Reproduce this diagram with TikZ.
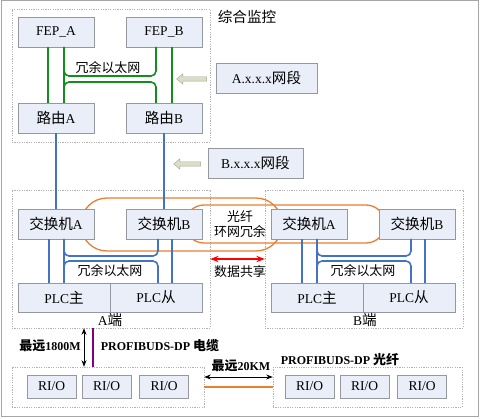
\documentclass[tikz,border=0pt]{standalone}
\usepackage{fontspec}
\setmainfont{Liberation Serif}
\newfontfamily\cjk[Scale=1.08]{Noto Sans CJK SC}
\usetikzlibrary{shapes.arrows,arrows.meta}
\definecolor{boxfill}{RGB}{233,238,248}
\definecolor{boxline}{RGB}{150,152,160}
\definecolor{netgreen}{RGB}{20,140,30}
\definecolor{netblue}{RGB}{68,114,196}
\definecolor{ringorange}{RGB}{237,125,49}
\definecolor{busviolet}{RGB}{128,0,128}
\definecolor{hintfill}{RGB}{218,222,200}
\definecolor{hintline}{RGB}{160,168,140}

\begin{document}
\begin{tikzpicture}[x=1pt, y=-1pt, >=Stealth,
  box/.style={rectangle, draw=boxline, fill=boxfill, inner sep=0pt, outer sep=0pt, font=\fontsize{13.5}{15}\selectfont},
  zone/.style={rectangle, draw=gray!60, dash pattern=on 1.2pt off 1.2pt, inner sep=0pt},
  lbl/.style={font=\fontsize{12}{15}\selectfont, inner sep=0pt},
  bold/.style={font=\fontsize{12}{14}\selectfont\bfseries, inner sep=0pt},
  grn/.style={draw=netgreen, line width=1.6pt},
  blu/.style={draw=netblue, line width=1.6pt},
  ring/.style={draw=ringorange, line width=1.3pt},
  hint/.style={single arrow, draw=hintline, fill=hintfill, shape border rotate=180, inner sep=2pt, minimum height=30pt, single arrow head extend=3pt, single arrow tip angle=80}
]

    \useasboundingbox (0,0) rectangle (480,419);
    \draw[gray!70, line width=1pt] (1,1) rectangle (478,417);

    % dashed zones
    \node[zone, minimum width=198pt, minimum height=133pt] (zoneTop) at (111,75.5) {};
    \node[zone, minimum width=198pt, minimum height=138pt] (zoneA) at (111,259) {};
    \node[zone, minimum width=198pt, minimum height=138pt] (zoneB) at (364,259) {};
    \node[zone, minimum width=192pt, minimum height=40pt] (zoneRa) at (108,387) {};
    \node[zone, minimum width=189pt, minimum height=40pt] (zoneRb) at (367.5,387.5) {};

    % fibre rings first, behind the switches
    \draw[ring, rounded corners=26pt] (81,198) rectangle (282,251);
    \draw[ring, rounded corners=19pt] (185,205) rectangle (385,243);

    % monitoring part
    \node[lbl, font=\fontsize{13.5}{15}\selectfont] (title) at (247,17) {\cjk 综合监控};
    \node[box, minimum width=76pt, minimum height=30pt] (fepA) at (56,32) {FEP\_A};
    \node[box, minimum width=76pt, minimum height=30pt] (fepB) at (164,32) {FEP\_B};
    \node[box, minimum width=76pt, minimum height=30pt] (routA) at (56,118) {{\cjk 路由}A};
    \node[box, minimum width=76pt, minimum height=30pt] (routB) at (164,118) {{\cjk 路由}B};
    \node[box, minimum width=101pt, minimum height=30pt] (netA) at (266.5,78) {A.x.x.x{\cjk 网段}};
    \node[box, minimum width=95pt, minimum height=30pt] (netB) at (255.5,163) {B.x.x.x{\cjk 网段}};
    \node[hint] (hintA) at (193,79) {};
    \node[hint, minimum height=27pt] (hintB) at (188.5,164) {};
    \node[lbl] (ethTop) at (108,68) {\cjk 冗余以太网};

    % A end
    \node[box, minimum width=76pt, minimum height=30pt] (swAa) at (56,224) {{\cjk 交换机}A};
    \node[box, minimum width=76pt, minimum height=30pt] (swAb) at (164,224) {{\cjk 交换机}B};
    \node[box, minimum width=92pt, minimum height=29pt] (plcAm) at (64,297.5) {PLC{\cjk 主}};
    \node[box, minimum width=92pt, minimum height=29pt] (plcAs) at (156,297.5) {PLC{\cjk 从}};
    \node[lbl] (ethA) at (110,271) {\cjk 冗余以太网};
    \node[lbl, font=\fontsize{13.5}{15}\selectfont] (endA) at (110,320) {A{\cjk 端}};

    % B end
    \node[box, minimum width=76pt, minimum height=30pt] (swBa) at (309,224) {{\cjk 交换机}A};
    \node[box, minimum width=76pt, minimum height=30pt] (swBb) at (417,224) {{\cjk 交换机}B};
    \node[box, minimum width=92pt, minimum height=29pt] (plcBm) at (317,297.5) {PLC{\cjk 主}};
    \node[box, minimum width=92pt, minimum height=29pt] (plcBs) at (409,297.5) {PLC{\cjk 从}};
    \node[lbl] (ethB) at (363,271) {\cjk 冗余以太网};
    \node[lbl, font=\fontsize{13.5}{15}\selectfont] (endB) at (365,320) {B{\cjk 端}};

    % between the ends
    \node[lbl, align=center] (ringTxt) at (240,224) {\cjk 光纤\\\cjk 环网冗余};
    \node[lbl] (share) at (240,272) {\cjk 数据共享};

    % remote I/O
    \node[box, minimum width=49pt, minimum height=23pt] (rioA1) at (51.5,386.5) {RI/O};
    \node[box, minimum width=49pt, minimum height=23pt] (rioA2) at (106.5,386.5) {RI/O};
    \node[box, minimum width=49pt, minimum height=23pt] (rioA3) at (164,386.5) {RI/O};
    \node[box, minimum width=49pt, minimum height=23pt] (rioB1) at (309.5,386.5) {RI/O};
    \node[box, minimum width=49pt, minimum height=23pt] (rioB2) at (364.5,386.5) {RI/O};
    \node[box, minimum width=49pt, minimum height=23pt] (rioB3) at (422,386.5) {RI/O};
    \node[bold] (distA) at (50,346) {{\cjk 最远}1800M};
    \node[bold] (busA) at (160,346) {PROFIBUDS-DP {\cjk 电缆}};
    \node[bold] (distB) at (241,366) {{\cjk 最远}20KM};
    \node[bold] (busB) at (340,360) {PROFIBUDS-DP {\cjk 光纤}};

    % green ethernet
    \draw[grn] ([xshift=-8pt]fepA.south) -- ([xshift=-8pt]routA.north);
    \draw[grn] ([xshift=8pt]fepA.south) -- ([xshift=8pt]routA.north);
    \draw[grn] ([xshift=8pt]fepB.south) -- ([xshift=8pt]routB.north);
    \draw[grn, rounded corners=5pt] ([xshift=8pt]fepA.south) -- ++(0,29) -| ([xshift=-8pt]fepB.south);
    \draw[grn, rounded corners=5pt] ([xshift=8pt]routA.north) -- ++(0,-21) -| ([xshift=-8pt]routB.north);

    % blue ethernet
    \draw[blu] (routA) -- (swAa);
    \draw[blu] (routB) -- (swAb);
    \draw[blu] ([xshift=-7pt]swAa.south) -- ([xshift=-7pt]swAa.south |- plcAm.north);
    \draw[blu] ([xshift=8pt]swAa.south) -- ([xshift=8pt]swAa.south |- plcAm.north);
    \draw[blu] ([xshift=8pt]swAb.south) -- ([xshift=8pt]swAb.south |- plcAs.north);
    \draw[blu, rounded corners=5pt] ([xshift=8pt]swAa.south) -- ++(0,17) -| ([xshift=-6pt]swAb.south);
    \draw[blu, rounded corners=5pt] ([xshift=8pt]swAa.south |- plcAm.north) -- ++(0,-22) -| ([xshift=-6pt]swAb.south |- plcAs.north);
    \draw[blu] ([xshift=-7pt]swBa.south) -- ([xshift=-7pt]swBa.south |- plcBm.north);
    \draw[blu] ([xshift=8pt]swBa.south) -- ([xshift=8pt]swBa.south |- plcBm.north);
    \draw[blu] ([xshift=8pt]swBb.south) -- ([xshift=8pt]swBb.south |- plcBs.north);
    \draw[blu, rounded corners=5pt] ([xshift=8pt]swBa.south) -- ++(0,17) -| ([xshift=-6pt]swBb.south);
    \draw[blu, rounded corners=5pt] ([xshift=8pt]swBa.south |- plcBm.north) -- ++(0,-22) -| ([xshift=-6pt]swBb.south |- plcBs.north);

    % data sharing and field bus
    \draw[<->, red, line width=1.2pt] (zoneA.east) -- (zoneB.west);
    \draw[<->, thick] ([xshift=-27pt]zoneA.south) -- ([xshift=-27pt]zoneA.south |- zoneRa.north);
    \draw[busviolet, line width=1.2pt] ([xshift=-18pt]zoneA.south) -- ([xshift=-18pt]zoneA.south |- zoneRa.north);
    \draw[<->, thick] ([yshift=10pt]zoneRa.east) -- ([yshift=10pt]zoneRa.east -| zoneRb.west);
    \draw[ringorange, line width=1.2pt] (zoneRa.east) -- (zoneRa.east -| zoneRb.west);
\end{tikzpicture}
\end{document}
